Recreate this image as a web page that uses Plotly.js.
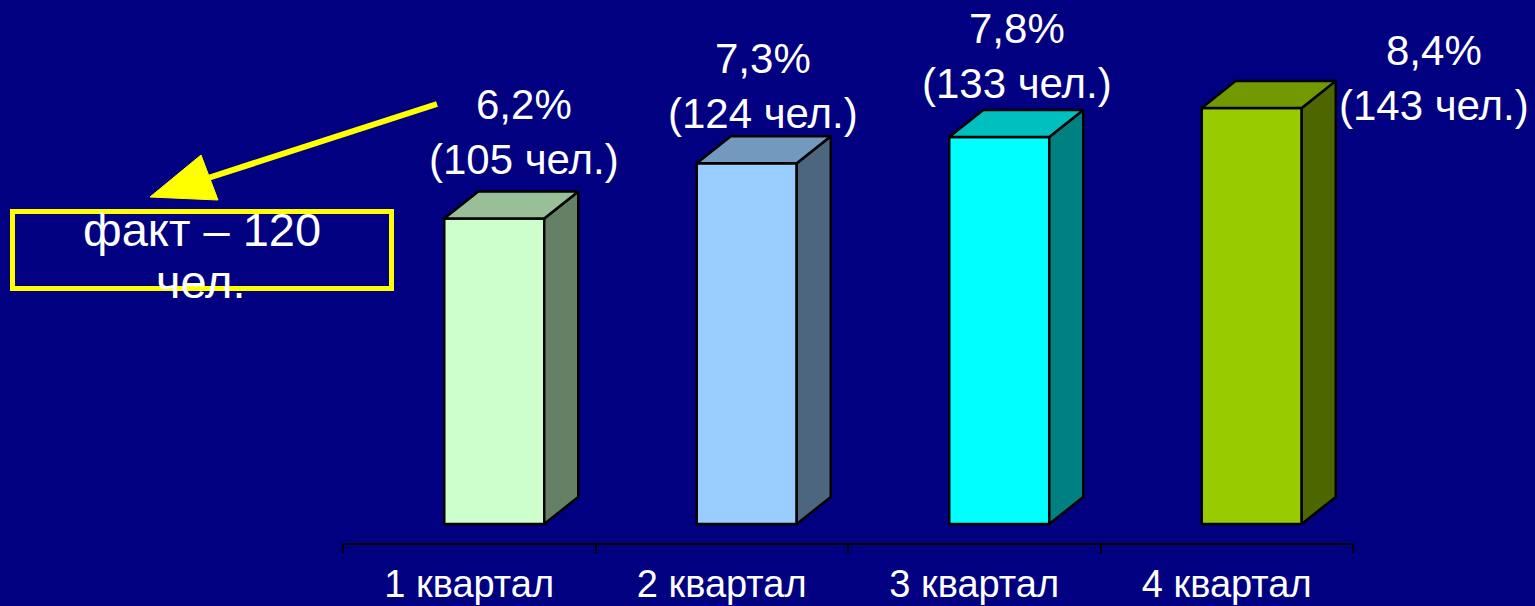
<!DOCTYPE html>
<html>
<head>
<meta charset="utf-8">
<script src="https://cdn.plot.ly/plotly-3.0.1.min.js"></script>
<style>html,body{margin:0;padding:0;background:#000080;}#chart{width:1535px;height:606px;}</style>
</head>
<body>
<div id="chart"></div>
<script>
// ---- data ----
const categories = ['1 квартал', '2 квартал', '3 квартал', '4 квартал'];
const people = [105, 124, 133, 143];
const percents = ['6,2%', '7,3%', '7,8%', '8,4%'];
const factLabel = ['факт – 120', 'чел.'];

// ---- styles ----
const frontColors = ['#CCFFCC', '#99CCFF', '#00FFFF', '#99CC00'];
const topColors   = ['#99BF99', '#7399BF', '#00BFBF', '#739900'];
const sideColors  = ['#668066', '#4D6680', '#008080', '#4D6600'];
const FONT = 'Arial, "Liberation Sans", sans-serif';

// ---- geometry (layout) ----
const BAR_OFFSET = -0.099, BAR_WIDTH = 0.396;   // category units
const DEPTH_X = 0.1347, DEPTH_Y = 9.3;          // 3D depth in axis units
const labelShiftX = [55, 41, 43, 207];          // px
const labelShiftY = [87, 77, 81, 30];           // px

const xs = categories.map((c, i) => i);
const traces = [];

traces.push({
  type: 'bar', x: xs, y: people, width: BAR_WIDTH, offset: BAR_OFFSET,
  marker: {color: frontColors, line: {color: '#000000', width: 2.5}},
  hoverinfo: 'skip', showlegend: false
});

xs.forEach((x, i) => {
  const l = x + BAR_OFFSET, r = l + BAR_WIDTH, v = people[i];
  traces.push({
    type: 'scatter', mode: 'lines', fill: 'toself', fillcolor: sideColors[i],
    x: [r, r + DEPTH_X, r + DEPTH_X, r, r],
    y: [0, DEPTH_Y, v + DEPTH_Y, v, 0],
    line: {color: '#000000', width: 2.5}, hoverinfo: 'skip', showlegend: false
  });
  traces.push({
    type: 'scatter', mode: 'lines', fill: 'toself', fillcolor: topColors[i],
    x: [l, l + DEPTH_X, r + DEPTH_X, r, l],
    y: [v, v + DEPTH_Y, v + DEPTH_Y, v, v],
    line: {color: '#000000', width: 2.5}, hoverinfo: 'skip', showlegend: false
  });
});

// paper coordinate helpers for the callout (plot area: x 343..1353 px, y 0..543 px)
const PX = px => (px - 343) / 1010;
const PY = py => (543 - py) / 543;

const annotations = xs.map((x, i) => ({
  x: x, y: people[i], xref: 'x', yref: 'y',
  text: percents[i] + '<br>(' + people[i] + ' чел.)',
  showarrow: false, xshift: labelShiftX[i], yshift: labelShiftY[i],
  xanchor: 'center', yanchor: 'middle',
  font: {family: FONT, size: 42, color: '#FFFFFF'}
}));
annotations.push({
  xref: 'paper', yref: 'paper', x: PX(202), y: PY(229), text: factLabel[0],
  xanchor: 'center', yanchor: 'middle',
  showarrow: false, font: {family: FONT, size: 47, color: '#FFFFFF'}
});
annotations.push({
  xref: 'paper', yref: 'paper', x: PX(201), y: PY(281), text: factLabel[1],
  xanchor: 'center', yanchor: 'middle',
  showarrow: false, font: {family: FONT, size: 47, color: '#FFFFFF'}
});

const shapes = [
  {type: 'rect', xref: 'paper', yref: 'paper', x0: PX(12.5), x1: PX(391.5), y0: PY(288.5), y1: PY(211.5),
   line: {color: '#FFFF00', width: 5}, fillcolor: 'rgba(0,0,0,0)', layer: 'below'},
  {type: 'line', xref: 'paper', yref: 'paper', x0: PX(437), y0: PY(104), x1: PX(205), y1: PY(179),
   line: {color: '#FFFF00', width: 6}},
  {type: 'path', xref: 'paper', yref: 'paper',
   path: 'M ' + PX(150) + ' ' + PY(197) + ' L ' + PX(201) + ' ' + PY(155) + ' L ' + PX(218) + ' ' + PY(200) + ' Z',
   fillcolor: '#FFFF00', line: {color: '#FFFF00', width: 1}}
];

const layout = {
  width: 1535, height: 606,
  margin: {l: 343, r: 182, t: 0, b: 63},
  paper_bgcolor: '#000080', plot_bgcolor: '#000080',
  showlegend: false,
  font: {family: FONT, color: '#FFFFFF'},
  xaxis: {
    range: [-0.5, 3.5], tickvals: xs, ticktext: categories, ticks: '',
    showgrid: false, zeroline: false, showline: true, linecolor: '#000000', linewidth: 2,
    tickfont: {family: FONT, size: 38, color: '#FFFFFF'}, ticklabelstandoff: 6,
    minor: {tick0: -0.5, dtick: 1, ticks: 'outside', ticklen: 8, tickwidth: 2, tickcolor: '#000000', showgrid: false},
    fixedrange: true
  },
  yaxis: {range: [-6.53, 180.1], visible: false, fixedrange: true},
  annotations: annotations,
  shapes: shapes
};

Plotly.newPlot('chart', traces, layout, {displayModeBar: false, staticPlot: true});
</script>
</body>
</html>
